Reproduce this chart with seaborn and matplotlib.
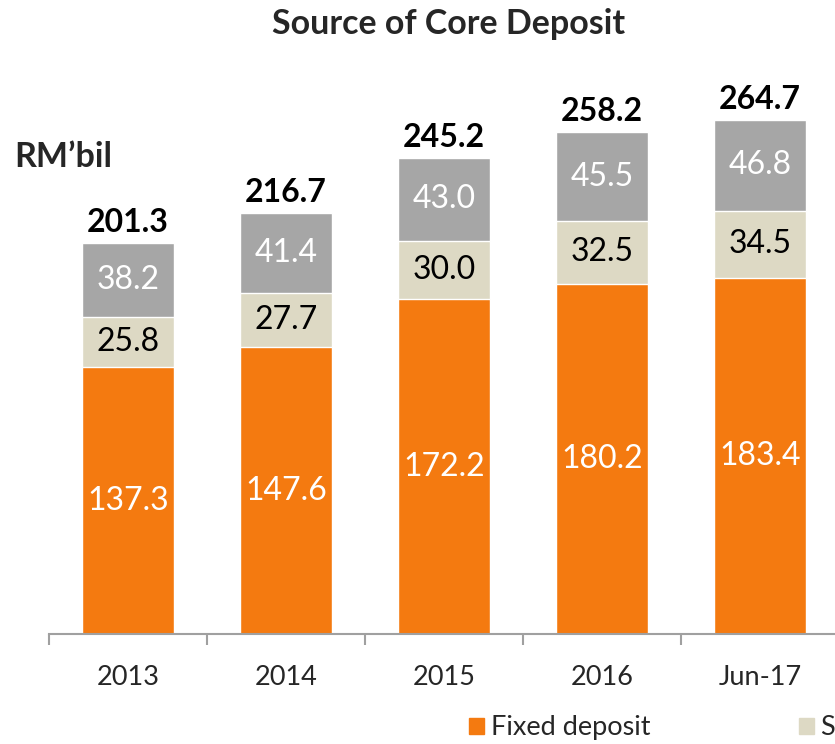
import matplotlib
matplotlib.use("Agg")
import pandas as pd
import seaborn as sns
import matplotlib.pyplot as plt
from matplotlib.patches import Patch

# data (RM'bil)
periods = ["2013", "2014", "2015", "2016", "Jun-17"]
fixed_deposit = [137.3, 147.6, 172.2, 180.2, 183.4]
savings_deposit = [25.8, 27.7, 30.0, 32.5, 34.5]
current_deposit = [38.2, 41.4, 43.0, 45.5, 46.8]
totals = [201.3, 216.7, 245.2, 258.2, 264.7]
series_names = ["Fixed deposit", "Savings deposit", "Current deposit"]

orange = "#F47A10"
beige = "#DDD9C4"
grey = "#A6A6A6"

df = pd.DataFrame({"period": periods, "fixed": fixed_deposit,
                   "savings": savings_deposit, "current": current_deposit})
df["fs"] = df["fixed"] + df["savings"]
df["all"] = df["fs"] + df["current"]

sns.set_style("white")
plt.rcParams["font.family"] = ["Lato", "DejaVu Sans"]

W, H = 835, 744
fig = plt.figure(figsize=(W / 100, H / 100), dpi=100)
# axes run past the right edge like the cropped original
x0, x1 = 49, 49 + 5 * 158
y_base, y_top = 634, 20
ax = fig.add_axes([x0 / W, 1 - y_base / H, (x1 - x0) / W, (y_base - y_top) / H])

bw = 0.576
# stacked bars drawn back to front with cumulative heights
sns.barplot(data=df, x="period", y="all", color=grey, width=bw, saturation=1, ax=ax)
sns.barplot(data=df, x="period", y="fs", color=beige, width=bw, saturation=1, ax=ax)
sns.barplot(data=df, x="period", y="fixed", color=orange, width=bw, saturation=1, ax=ax)

ax.set_ylim(0, (y_base - y_top) / 1.943)
ax.set_xlim(-0.5, 4.5)

for i, row in df.iterrows():
    ax.text(i, row["fixed"] / 2, f"{row['fixed']:.1f}", ha="center", va="center",
            color="white", fontsize=23)
    ax.text(i, row["fixed"] + row["savings"] / 2, f"{row['savings']:.1f}", ha="center",
            va="center", color="black", fontsize=23)
    ax.text(i, row["fs"] + row["current"] / 2, f"{row['current']:.1f}", ha="center",
            va="center", color="white", fontsize=23)
    ax.text(i, totals[i] + 3, f"{totals[i]:.1f}", ha="center", va="bottom",
            color="black", fontsize=23, fontweight="bold")

sns.despine(ax=ax, left=True, top=True, right=True)
ax.spines["bottom"].set_color("#A0A0A0")
ax.spines["bottom"].set_linewidth(1.5)
ax.set_yticks([])
ax.set_xticks([i - 0.5 for i in range(6)], minor=True)
ax.tick_params(axis="x", which="major", length=0, labelsize=19.5, pad=22)
ax.tick_params(axis="x", which="minor", bottom=True, length=8, width=1.5, color="#A0A0A0")
ax.set_xlabel("")
ax.set_ylabel("")

fig.text(449 / W, 1 - 24 / H, "Source of Core Deposit", ha="center", va="center",
         fontsize=24.5, fontweight="bold")
fig.text(14 / W, 1 - 157 / H, "RM\u2019bil", ha="left", va="center",
         fontsize=24.5, fontweight="bold")

handles = [Patch(color=c) for c in (orange, beige, grey)]
fig.legend(handles, series_names, ncol=3, loc="center left",
           bbox_to_anchor=(469 / W, 1 - 728 / H), frameon=False, fontsize=19.5,
           handlelength=0.55, handleheight=0.55, handletextpad=0.25,
           columnspacing=5.5, borderpad=0, borderaxespad=0)

fig.savefig("out.png", dpi=100)
